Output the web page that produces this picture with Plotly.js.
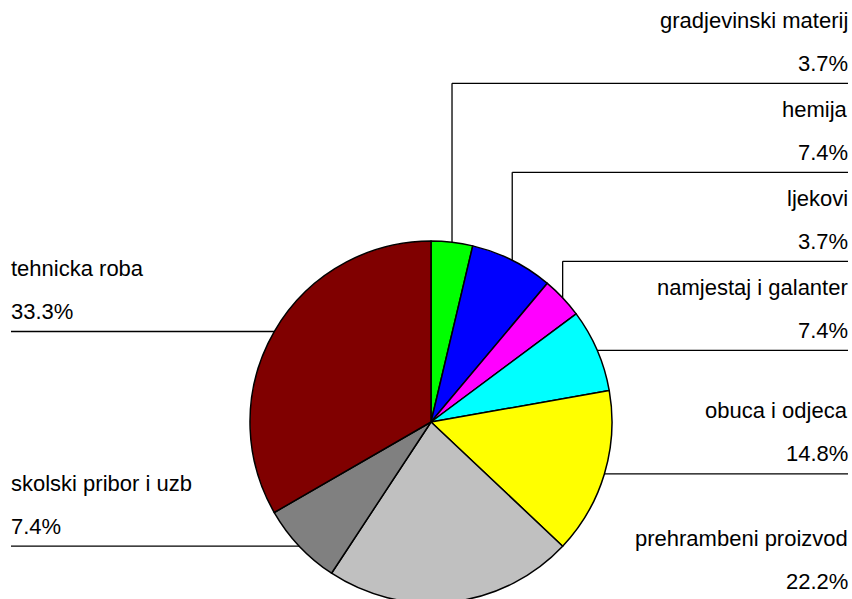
<!DOCTYPE html>
<html>
<head>
<meta charset="utf-8">
<script src="https://cdn.plot.ly/plotly-3.0.1.min.js"></script>
<style>
html,body{margin:0;padding:0;overflow:hidden;background:#fff;}
#chart{width:852px;height:620px;}
</style>
</head>
<body>
<div id="chart"></div>
<script>
var categories = ["gradjevinski materij","hemija","ljekovi","namjestaj i galanter","obuca i odjeca","prehrambeni proizvod","skolski pribor i uzb","tehnicka roba"];
var values = [1, 2, 1, 2, 4, 6, 2, 9];
var pctLabels = ["3.7%","7.4%","3.7%","7.4%","14.8%","22.2%","7.4%","33.3%"];
var colors = ["#00FF00","#0000FF","#FF00FF","#00FFFF","#FFFF00","#C0C0C0","#808080","#800000"];

var W = 852, H = 620;
var cx = 431, cy = 422, R = 181;
var rightX = 848, leftX = 11, minGap = 89;

function px(x){ return x / W; }
function py(y){ return 1 - y / H; }

var total = values.reduce(function(a,b){return a+b;},0);
var cum = 0, mids = [];
values.forEach(function(v){
  var a = (cum + v/2) / total * 2 * Math.PI;
  mids.push({x: cx + R*Math.sin(a), y: cy - R*Math.cos(a), right: Math.sin(a) >= 0});
  cum += v;
});

// label y positions: right side stacked bottom-up with a minimum gap, left side natural
var labelY = mids.map(function(m){ return m.y; });
var rightIdx = [];
mids.forEach(function(m,i){ if (m.right) rightIdx.push(i); });
rightIdx.sort(function(a,b){ return mids[b].y - mids[a].y; });
var prev = Infinity;
rightIdx.forEach(function(i){ labelY[i] = Math.min(mids[i].y, prev - minGap); prev = labelY[i]; });

var shapes = [], annotations = [];
var lineStyle = {color:"#000", width:1.3};
var fnt = {family:"Liberation Sans, Arial, sans-serif", size:22, color:"#000"};
mids.forEach(function(m,i){
  var ly = labelY[i];
  var edgeX = m.right ? rightX : leftX;
  var textX = m.right ? rightX + 2 : leftX - 2;
  if (Math.abs(ly - m.y) > 0.5) {
    shapes.push({type:"line", xref:"paper", yref:"paper", x0:px(m.x), y0:py(m.y), x1:px(m.x), y1:py(ly), line:lineStyle});
  }
  shapes.push({type:"line", xref:"paper", yref:"paper", x0:px(m.x), y0:py(ly), x1:px(edgeX), y1:py(ly), line:lineStyle});
  var anchor = m.right ? "right" : "left";
  annotations.push({xref:"paper", yref:"paper", x:px(textX), y:py(ly-63), text:categories[i], showarrow:false, xanchor:anchor, yanchor:"middle", font:fnt});
  annotations.push({xref:"paper", yref:"paper", x:px(textX), y:py(ly-20), text:pctLabels[i], showarrow:false, xanchor:anchor, yanchor:"middle", font:fnt});
});

var trace = {
  type:"pie",
  labels:categories,
  values:values,
  sort:false,
  direction:"clockwise",
  rotation:0,
  textinfo:"none",
  hoverinfo:"label+percent",
  marker:{colors:colors, line:{color:"#000", width:1.5}},
  domain:{x:[px(cx-R), px(cx+R)], y:[py(cy+R), py(cy-R)]},
  showlegend:false
};

var layout = {
  width:W, height:H,
  margin:{l:0,r:0,t:0,b:0},
  paper_bgcolor:"#fff",
  plot_bgcolor:"#fff",
  showlegend:false,
  shapes:shapes,
  annotations:annotations
};

Plotly.newPlot("chart", [trace], layout, {displayModeBar:false, staticPlot:true});
</script>
</body>
</html>
